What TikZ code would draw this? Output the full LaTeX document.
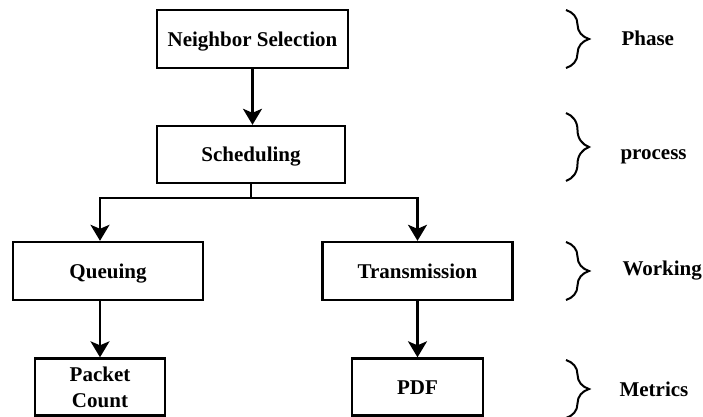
\documentclass[tikz,border=0pt]{standalone}
\usepackage{fontspec}
\setmainfont{Liberation Serif}
\usepackage{tikz}
\usetikzlibrary{positioning,
				arrows.meta,
				decorations.pathreplacing}

\begin{document}
\begin{tikzpicture}[x=1pt,y=-1pt,line width=2.4pt,
  box/.style={draw, rectangle, inner sep=0pt, align=center,
    font=\fontsize{21}{26}\selectfont\bfseries},
  one/.style={text height=14pt, text depth=0pt},
  arr/.style={-{Stealth[length=16pt,width=19pt,inset=4pt]}},
  brc/.style={decorate, decoration={brace, amplitude=23pt}, line width=2pt},
  lbl/.style={anchor=west, one, font=\fontsize{21}{26}\selectfont\bfseries}]
  \useasboundingbox (0,0) rectangle (703,416);
  % boxes
  \node[box, one, minimum width=191pt, minimum height=58pt] (nsel) at (252.5,39) {Neighbor Selection};
  \node[box, one, minimum width=188pt, minimum height=57pt] (sched) at (251,154.5) {Scheduling};
  \node[box, one, minimum width=190pt, minimum height=58pt] (queue) at (108,271) {Queuing};
  \node[box, one, minimum width=190pt, minimum height=58pt] (trans) at (417.5,271) {Transmission};
  \node[box, minimum width=130pt, minimum height=57pt] (pcount) at (100,387) {Packet\\Count};
  \node[box, one, minimum width=131pt, minimum height=57pt] (pdf) at (417.5,387) {PDF};
  % arrows
  \draw[arr](nsel.south)--(nsel.south |- sched.north);
  \draw[-](sched.south)--++(0,14) coordinate (split);
  \draw[arr](split)-|(pcount.north |- queue.north);
  \draw[arr](split)-|(trans.north);
  \draw[arr](pcount.north |- queue.south)--(pcount.north);
  \draw[arr](trans.south)--(pdf.north);
  % braces
  \draw[brc](566,10)--(566,68);
  \draw[brc](566,113)--(566,181);
  \draw[brc](566,242)--(566,300);
  \draw[brc](566,360)--(566,418);
  \node[lbl] (phase) at (617,38) {Phase};
  \node[lbl] (proc) at (616,152) {process};
  \node[lbl] (work) at (618,268) {Working};
  \node[lbl] (metr) at (615,389) {Metrics};
\end{tikzpicture}
\end{document}
